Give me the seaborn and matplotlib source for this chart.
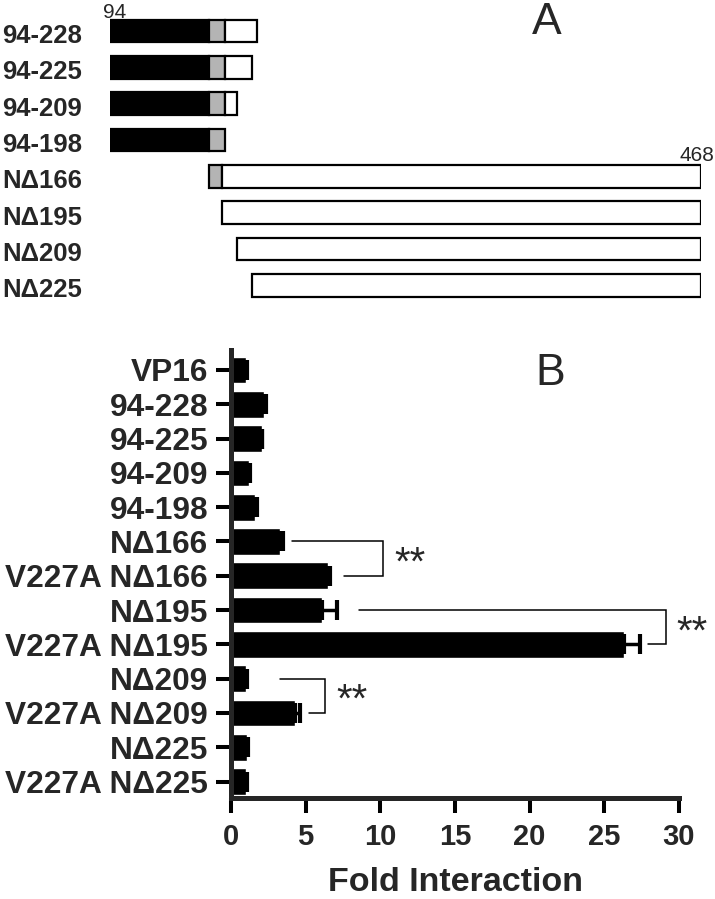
import numpy as np
import pandas as pd
import matplotlib
matplotlib.use('Agg')
import matplotlib.pyplot as plt
import seaborn as sns
from matplotlib import transforms

# Panel A: construct map (residue boundaries)
a_labels = ['94-228', '94-225', '94-209', '94-198', 'NΔ166', 'NΔ195', 'NΔ209', 'NΔ225']
a_start = [94, 94, 94, 94, 166, 195, 209, 225]
a_end = [228, 225, 209, 198, 468, 468, 468, 468]
a_gray_end = [198, 198, 198, 198, 195, None, None, None]
black_end = 166

# schematic (not to scale) residue -> drawing position
res_breaks = [0, 94, 166, 195, 198, 209, 225, 228, 468, 1000]
pos_breaks = [-129, 0, 99, 111.5, 115, 127, 142, 147, 591, 1575]

# Panel B: fold interaction
b_labels = ['VP16', '94-228', '94-225', '94-209', '94-198',
            'NΔ166', 'V227A NΔ166', 'NΔ195', 'V227A NΔ195',
            'NΔ209', 'V227A NΔ209', 'NΔ225', 'V227A NΔ225']
b_fold = [1.0, 2.2, 2.05, 1.2, 1.6, 3.25, 6.5, 6.1, 26.3, 1.0, 4.3, 1.1, 1.0]
b_err = [0.05, 0.12, 0.05, 0.05, 0.12, 0.25, 0.1, 1.0, 1.1, 0.05, 0.35, 0.05, 0.05]

# significance brackets: (upper row, lower row)
sig_pairs = [(5, 6), (7, 8), (9, 10)]
sig_upper_start = [4.1, 8.6, 3.3]
sig_lower_start = [7.6, 27.9, 5.2]
sig_x = [10.2, 29.1, 6.3]

sns.set_style('ticks')
plt.rcParams['font.family'] = ['Liberation Sans', 'DejaVu Sans']
plt.rcParams['font.weight'] = 'bold'

W, H = 715, 899
fig = plt.figure(figsize=(W / 100, H / 100), dpi=100)


def px_axes(left, top, right, bottom):
    return fig.add_axes([left / W, 1 - bottom / H, (right - left) / W, (bottom - top) / H])


# ---------- Panel A ----------
ax_a = px_axes(110, 0, 701, 305)
ax_a.set_xscale('function', functions=(lambda x: np.interp(x, res_breaks, pos_breaks),
                                        lambda x: np.interp(x, pos_breaks, res_breaks)))
ax_a.set_xlim(94, 468)
ax_a.set_ylim(7.54, -0.853)
ax_a.axis('off')

bar_h = 0.63
for i, (s, e, g) in enumerate(zip(a_start, a_end, a_gray_end)):
    segs = []
    cur = s
    if cur < black_end:
        segs.append((cur, min(e, black_end), 'black'))
        cur = black_end
    if g is not None and cur < g:
        segs.append((cur, min(e, g), '#b4b4b4'))
        cur = g
    if e > cur:
        segs.append((cur, e, 'white'))
    for x0, x1, c in segs:
        ax_a.barh(i, x1 - x0, left=x0, height=bar_h, color=c,
                  edgecolor='black', linewidth=1.6)

lab_tr = transforms.blended_transform_factory(fig.transFigure, ax_a.transData)
for i, lab in enumerate(a_labels):
    ax_a.text(2 / W, i + 0.14, lab, transform=lab_tr, ha='left', va='center',
              fontsize=18.5, fontweight='bold')

ax_a.annotate('94', xy=(94, -bar_h / 2), xytext=(-7, 2), textcoords='offset pixels',
              ha='left', va='baseline', fontsize=15, fontweight='normal')
ax_a.annotate('468', xy=(468, 4 - bar_h / 2), xytext=(-22, 4), textcoords='offset pixels',
              ha='left', va='baseline', fontsize=15, fontweight='normal',
              annotation_clip=False)
fig.text(532 / W, 1 - 34 / H, 'A', fontsize=32, fontweight='normal', ha='left', va='baseline')

# ---------- Panel B ----------
ax_b = px_axes(231, 350, 679, 797.7)
df = pd.DataFrame({'construct': b_labels, 'fold': b_fold})
sns.barplot(data=df, x='fold', y='construct', orient='h', color='black',
            saturation=1, width=0.78, errorbar=None, ax=ax_b)
ypos = np.arange(len(b_labels))
ax_b.errorbar(b_fold, ypos, xerr=[np.zeros(len(b_err)), b_err], fmt='none',
              ecolor='black', elinewidth=2.5, capsize=7, capthick=3)

ax_b.set_xlim(0, 30)
ax_b.set_ylim(12.47, -0.583)
ax_b.set_xticks(np.arange(0, 31, 5))
sns.despine(ax=ax_b)
for sp in ['left', 'bottom']:
    ax_b.spines[sp].set_linewidth(3.6)
ax_b.tick_params(axis='both', length=10.5, width=2.9, color='black')
ax_b.tick_params(axis='y', labelsize=22.8, pad=6)
ax_b.tick_params(axis='x', labelsize=21, pad=8)
ax_b.set_ylabel('')
ax_b.set_xlabel('Fold Interaction', fontsize=24.5, fontweight='bold', labelpad=11)

for (r0, r1), xs0, xs1, xb in zip(sig_pairs, sig_upper_start, sig_lower_start, sig_x):
    ax_b.plot([xs0, xb, xb, xs1], [r0, r0, r1, r1], color='black', lw=1.1,
              clip_on=False, solid_joinstyle='miter')
    ax_b.annotate('**', xy=(xb, (r0 + r1) / 2), xytext=(11, -16), textcoords='offset pixels',
                  ha='left', va='baseline', fontsize=29, fontweight='normal',
                  annotation_clip=False)

fig.text(535 / W, 1 - 385 / H, 'B', fontsize=32, fontweight='normal', ha='left', va='baseline')

fig.savefig('out.png', dpi=100)
